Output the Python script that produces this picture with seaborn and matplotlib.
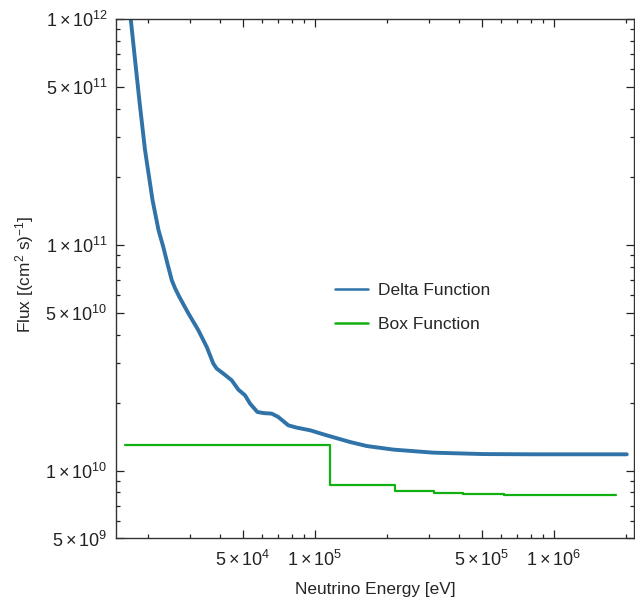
import numpy as np
import pandas as pd
import seaborn as sns
import matplotlib.pyplot as plt
from matplotlib.ticker import FixedLocator, LogLocator, FuncFormatter, NullFormatter

# Delta function flux
delta_energy = [1.64e4, 1.694e4, 1.766e4, 1.840e4, 1.944e4, 2.090e4, 2.214e4, 2.319e4,
                2.41e4, 2.515e4, 2.596e4, 2.705e4, 2.95e4, 3.249e4, 3.523e4, 3.753e4,
                3.878e4, 4.133e4, 4.482e4, 4.776e4, 5.094e4, 5.346e4, 5.736e4, 6.118e4,
                6.59e4, 7.02e4, 7.73e4, 8.384e4, 9.53e4, 1.119e5, 1.401e5, 1.646e5,
                2.126e5, 3.126e5, 5.06e5, 8.17e5, 2.015e6]
delta_flux = [1.35e12, 1.0e12, 6.58e11, 4.375e11, 2.627e11, 1.576e11, 1.161e11, 9.76e10,
              8.29e10, 6.97e10, 6.42e10, 5.88e10, 4.975e10, 4.183e10, 3.527e10, 2.978e10,
              2.829e10, 2.689e10, 2.51e10, 2.283e10, 2.154e10, 1.98e10, 1.817e10, 1.796e10,
              1.787e10, 1.726e10, 1.586e10, 1.549e10, 1.508e10, 1.432e10, 1.338e10, 1.284e10,
              1.238e10, 1.2e10, 1.183e10, 1.18e10, 1.18e10]

# Box function flux (step edges and levels)
box_energy = [1.6e4, 1.16e5, 2.16e5, 3.16e5, 4.16e5, 5.16e5, 6.16e5, 7.16e5, 8.16e5,
              9.16e5, 1.016e6, 1.216e6, 1.416e6, 1.616e6, 1.816e6]
box_flux = [1.294e10, 8.63e9, 8.11e9, 7.95e9, 7.885e9, 7.85e9, 7.83e9, 7.81e9, 7.80e9,
            7.79e9, 7.78e9, 7.775e9, 7.77e9, 7.765e9, 7.765e9]

x_major = [5e4, 1e5, 5e5, 1e6]
y_major = [5e9, 1e10, 5e10, 1e11, 5e11, 1e12]

df_delta = pd.DataFrame({'energy': delta_energy, 'flux': delta_flux})
df_box = pd.DataFrame({'energy': box_energy, 'flux': box_flux})

sns.set_style('ticks')
plt.rcParams['font.family'] = ['Liberation Sans', 'DejaVu Sans']
plt.rcParams['mathtext.fontset'] = 'custom'
plt.rcParams['mathtext.rm'] = 'Liberation Sans'
plt.rcParams['mathtext.it'] = 'Liberation Sans'

fig = plt.figure(figsize=(6.35, 5.98), dpi=100)
ax = fig.add_axes([0.1827, 0.0995, 0.8157, 0.8687])

sns.lineplot(data=df_delta, x='energy', y='flux', ax=ax, color='#2f73a9', lw=2.8,
             solid_joinstyle='round', solid_capstyle='round', label='Delta Function')
sns.lineplot(data=df_box, x='energy', y='flux', ax=ax, color='#12b012', lw=1.6,
             drawstyle='steps-post', label='Box Function')

ax.set_xscale('log')
ax.set_yscale('log')
ax.set_xlim(1.47e4, 2.16e6)
ax.set_ylim(5e9, 1e12)


def sci_fmt(v, pos):
    e = int(np.floor(np.log10(v) + 1e-9))
    m = int(round(v / 10 ** e))
    return r'$%d\times10^{%d}$' % (m, e)


ax.xaxis.set_major_locator(FixedLocator(x_major))
ax.yaxis.set_major_locator(FixedLocator(y_major))
ax.xaxis.set_minor_locator(LogLocator(base=10, subs=[2, 3, 4, 6, 7, 8, 9]))
ax.yaxis.set_minor_locator(LogLocator(base=10, subs=[2, 3, 4, 6, 7, 8, 9]))
ax.xaxis.set_major_formatter(FuncFormatter(sci_fmt))
ax.yaxis.set_major_formatter(FuncFormatter(sci_fmt))
ax.xaxis.set_minor_formatter(NullFormatter())
ax.yaxis.set_minor_formatter(NullFormatter())

ax.tick_params(which='both', direction='in', top=True, right=True, width=0.9,
               colors='#222222', labelsize=13)
ax.tick_params(which='major', length=5.5)
ax.tick_params(which='minor', length=3)
ax.tick_params(axis='x', pad=8)
ax.tick_params(axis='y', pad=6)
for s in ax.spines.values():
    s.set_color('#333333')
    s.set_linewidth(1)

ax.set_xlabel('Neutrino Energy [eV]', fontsize=12.4)
ax.set_ylabel(r'Flux [(cm$^2$ s)$^{-1}$]', fontsize=12.4)
ax.xaxis.set_label_coords(0.5, -0.084)
ax.yaxis.set_label_coords(-0.154, 0.509)

leg = ax.legend(loc='upper left', bbox_to_anchor=(0.409, 0.506), frameon=False,
                fontsize=12.5, handlelength=1.9, handletextpad=0.6, labelspacing=1.1,
                borderaxespad=0)
for h in leg.get_lines():
    h.set_linewidth(1.8)

fig.savefig('out.png', dpi=100)
